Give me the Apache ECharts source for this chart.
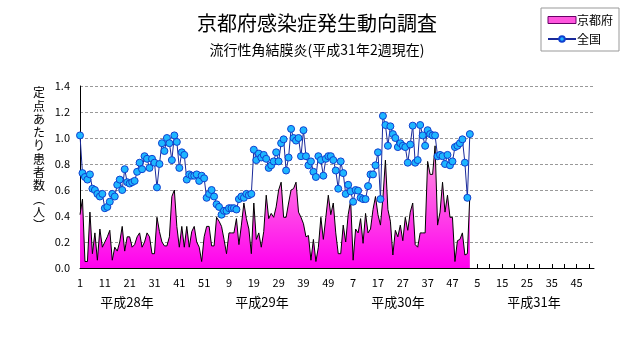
<!DOCTYPE html>
<html>
<head>
<meta charset="utf-8">
<script src="https://cdn.jsdelivr.net/npm/echarts@6/dist/echarts.min.js"></script>
<style>
html,body{margin:0;padding:0;background:#fff;}
#chart{width:631px;height:347px;}
</style>
</head>
<body>
<div id="chart"></div>
<script>
// ---- data ----
const weeksPerYear = [52, 52, 52, 52];
const yearLabels = ['平成28年', '平成29年', '平成30年', '平成31年'];
const seriesNames = ['京都府', '全国'];
const yTicks = [0, 0.2, 0.4, 0.6, 0.8, 1.0, 1.2, 1.4];
const yAxisTitle = '定点あたり患者数︵人︶';

const kyoto = [
  0.41, 0.53, 0.05, 0.05, 0.43, 0.11, 0.27, 0.06, 0.30, 0.16,
  0.20, 0.24, 0.29, 0.06, 0.16, 0.13, 0.20, 0.32, 0.13, 0.24,
  0.24, 0.16, 0.18, 0.24, 0.27, 0.16, 0.20, 0.27, 0.24, 0.11,
  0.11, 0.39, 0.28, 0.20, 0.17, 0.17, 0.24, 0.55, 0.60, 0.32,
  0.16, 0.32, 0.16, 0.32, 0.16, 0.28, 0.32, 0.20, 0.16, 0.05,
  0.24, 0.32, 0.32, 0.17, 0.17, 0.39, 0.36, 0.32, 0.22, 0.11,
  0.27, 0.27, 0.27, 0.38, 0.18, 0.33, 0.50, 0.38, 0.30, 0.11,
  0.50, 0.22, 0.27, 0.16, 0.28, 0.56, 0.38, 0.42, 0.39, 0.47,
  0.60, 0.66, 0.39, 0.39, 0.50, 0.60, 0.61, 0.66, 0.43, 0.39,
  0.34, 0.24, 0.25, 0.06, 0.22, 0.05, 0.16, 0.39, 0.22, 0.39,
  0.56, 0.41, 0.50, 0.27, 0.11, 0.11, 0.33, 0.20, 0.41, 0.52,
  0.06, 0.30, 0.27, 0.38, 0.19, 0.42, 0.27, 0.30, 0.45, 0.55,
  0.41, 0.33, 0.54, 0.83, 0.45, 0.36, 0.10, 0.29, 0.24, 0.33,
  0.21, 0.39, 0.29, 0.43, 0.50, 0.18, 0.16, 0.27, 0.27, 0.27,
  0.82, 0.72, 0.72, 0.94, 0.33, 0.43, 0.66, 0.43, 0.56, 0.39,
  0.39, 0.05, 0.21, 0.22, 0.27, 0.10, 0.11, 0.56
];

const national = [
  1.02, 0.73, 0.70, 0.68, 0.72, 0.61, 0.60, 0.57, 0.55, 0.57,
  0.46, 0.47, 0.51, 0.57, 0.55, 0.64, 0.68, 0.60, 0.76, 0.66,
  0.65, 0.66, 0.67, 0.74, 0.81, 0.76, 0.86, 0.84, 0.77, 0.84,
  0.81, 0.62, 0.80, 0.96, 0.90, 1.00, 0.96, 0.83, 1.02, 0.97,
  0.77, 0.89, 0.87, 0.68, 0.72, 0.71, 0.71, 0.72, 0.67, 0.71,
  0.69, 0.54, 0.57, 0.60, 0.55, 0.49, 0.47, 0.41, 0.44, 0.44,
  0.46, 0.46, 0.46, 0.45, 0.53, 0.55, 0.54, 0.57, 0.56, 0.57,
  0.91, 0.83, 0.88, 0.85, 0.87, 0.84, 0.77, 0.79, 0.82, 0.89,
  0.82, 0.96, 0.99, 0.75, 0.85, 1.07, 1.00, 0.98, 1.00, 0.86,
  1.06, 0.86, 0.79, 0.82, 0.74, 0.70, 0.86, 0.83, 0.71, 0.84,
  0.86, 0.86, 0.83, 0.75, 0.61, 0.82, 0.73, 0.57, 0.64, 0.59,
  0.51, 0.60, 0.595, 0.54, 0.53, 0.53, 0.63, 0.72, 0.72, 0.79,
  0.89, 0.53, 1.17, 1.10, 0.94, 1.09, 1.03, 1.00, 0.93, 0.96,
  0.94, 0.93, 0.81, 0.95, 1.095, 0.81, 0.83, 1.10, 1.02, 0.94,
  1.06, 1.03, 1.02, 1.02, 0.86, 0.87, 0.86, 0.80, 0.87, 0.79,
  0.82, 0.93, 0.94, 0.96, 0.99, 0.81, 0.54, 1.03
];

// category keys "yearIndex-week"
const categories = [];
weeksPerYear.forEach(function (n, yi) {
  for (let w = 1; w <= n; w++) categories.push(yi + '-' + w);
});

const FONT = '"Noto Sans CJK JP", "Noto Sans", sans-serif';
const chart = echarts.init(document.getElementById('chart'), null, {renderer: 'canvas'});

const yearCenters = [127, 262, 398, 534];

const graphics = yearLabels.map(function (t, i) {
  return {
    type: 'text', x: yearCenters[i], y: 296,
    style: {text: t, font: '13px ' + FONT, fill: '#000', textAlign: 'center', textVerticalAlign: 'top'}
  };
});
graphics.push({
  type: 'text', x: 39, y: 86,
  style: {
    text: yAxisTitle.split('').join('\n'),
    fontFamily: 'Noto Sans CJK JP', fontSize: 12, lineHeight: 13.3, fill: '#000',
    align: 'center', verticalAlign: 'top'
  }
});

chart.setOption({
  animation: false,
  backgroundColor: '#ffffff',
  textStyle: {fontFamily: FONT},
  title: {
    text: '京都府感染症発生動向調査',
    subtext: '流行性角結膜炎(平成31年2週現在)',
    left: 312, textAlign: 'center', top: 8,
    itemGap: 10,
    textStyle: {fontFamily: FONT, fontSize: 20, fontWeight: 'normal', color: '#000'},
    subtextStyle: {fontFamily: FONT, fontSize: 14, color: '#000'}
  },
  legend: {
    orient: 'vertical',
    left: 541, top: 8,
    width: 83,
    padding: [6, 6, 6, 6],
    itemGap: 7,
    itemWidth: 28, itemHeight: 7,
    borderColor: '#999', borderWidth: 1,
    textStyle: {fontFamily: FONT, fontSize: 12, color: '#000', padding: [0, 2, 0, -4]},
    data: [
      {name: seriesNames[0], icon: 'rect', itemStyle: {color: '#ff55dd', borderColor: '#660066', borderWidth: 1}},
      {name: seriesNames[1]}
    ]
  },
  grid: {left: 80, right: 37, top: 86, bottom: 79, containLabel: false},
  xAxis: {
    type: 'category',
    data: categories,
    boundaryGap: false,
    axisLine: {lineStyle: {color: '#000', width: 1}},
    axisTick: {inside: true, interval: 4, length: 4, lineStyle: {color: '#000'}},
    axisLabel: {
      interval: 9, margin: 9,
      fontFamily: FONT, fontSize: 11, color: '#000',
      formatter: function (v) { return v.split('-')[1]; }
    },
    splitLine: {show: false}
  },
  yAxis: {
    type: 'value',
    min: yTicks[0], max: yTicks[yTicks.length - 1], interval: 0.2,
    axisLine: {show: true, lineStyle: {color: '#000', width: 1}},
    axisTick: {show: false},
    axisLabel: {margin: 10, fontFamily: FONT, fontSize: 11, color: '#000',
      formatter: function (v) { return v.toFixed(1); }},
    splitLine: {show: true, lineStyle: {color: '#999', type: [3, 2], width: 1}}
  },
  graphic: graphics,
  series: [
    {
      name: seriesNames[0],
      type: 'line',
      data: kyoto,
      symbol: 'none',
      lineStyle: {color: '#000', width: 1},
      itemStyle: {color: '#ff55dd'},
      areaStyle: {
        opacity: 1,
        color: new echarts.graphic.LinearGradient(0, 0, 0, 1, [
          {offset: 0, color: '#ff99e0'},
          {offset: 1, color: '#ff00ee'}
        ])
      },
      z: 2
    },
    {
      name: seriesNames[1],
      type: 'line',
      data: national,
      symbol: 'circle',
      symbolSize: 7,
      showAllSymbol: true,
      lineStyle: {color: '#1a2a9a', width: 1},
      itemStyle: {color: '#1eb6ff', borderColor: '#1040d0', borderWidth: 1},
      z: 3
    }
  ]
});
</script>
</body>
</html>
